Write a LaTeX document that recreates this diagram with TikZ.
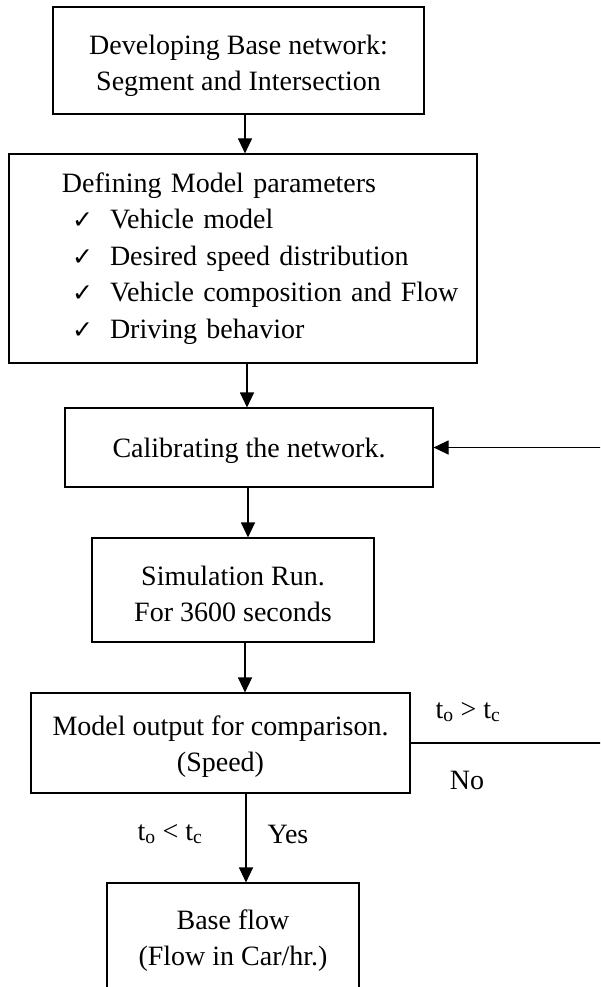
\documentclass[tikz,border=0pt]{standalone}
\usepackage{fontspec}
\setmainfont{Liberation Serif}
\newfontfamily\symfont{DejaVu Sans}
\usetikzlibrary{arrows.meta}
\newcommand\mytopstrut{\rule{0pt}{27pt}}
\newcommand\mychk{\makebox[38pt][l]{\symfont\fontsize{25}{25}\selectfont ✓}}
\begin{document}
\begin{tikzpicture}[x=1pt,y=-1pt,
  box/.style={draw, line width=1.1pt, inner sep=0pt, align=center,
    font=\fontsize{28}{36}\selectfont},
  arr/.style={line width=1.1pt, -{Triangle[length=15pt,width=14pt]}},
  lbl/.style={inner sep=0pt, font=\fontsize{28}{36}\selectfont}]
\useasboundingbox (0,0) rectangle (600,987);
\clip (0,0) rectangle (600,987);
\node[box, minimum width=371pt, minimum height=107pt] (b1) at (238.5,60.5)
  {\rule{0pt}{31pt}Developing Base network:\\Segment and Intersection};
\node[box, minimum width=468pt, minimum height=209pt, text width=468pt, align=left,
  font=\fontsize{28}{36.5}\selectfont] (b2) at (243,258.5)
  {\hspace*{53pt}Defining Model parameters\\
   \hspace*{63pt}\mychk Vehicle model\\
   \hspace*{63pt}\mychk Desired speed distribution\\
   \hspace*{63pt}\mychk Vehicle composition and Flow\\
   \hspace*{63pt}\mychk Driving behavior};
\node[box, minimum width=368pt, minimum height=79pt] (b3) at (249,447.5)
  {\mytopstrut Calibrating the network.};
\node[box, minimum width=282pt, minimum height=104pt] (b4) at (233,590)
  {\mytopstrut Simulation Run.\\For 3600 seconds};
\node[box, minimum width=379pt, minimum height=100pt] (b5) at (220.5,743)
  {\mytopstrut Model output for comparison.\\(Speed)};
\node[box, minimum width=252pt, minimum height=107pt] (b6) at (233,936.5)
  {\mytopstrut Base flow\\(Flow in Car/hr.)};
\coordinate (x1) at (245,0);
\coordinate (x2) at (247,0);
\coordinate (x3) at (248,0);
\coordinate (x4) at (245,0);
\coordinate (x5) at (246,0);
\coordinate (fb) at (606,0);
\draw[arr] (b1.south -| x1) -- (b2.north -| x1);
\draw[arr] (b2.south -| x2) -- (b3.north -| x2);
\draw[arr] (b3.south -| x3) -- (b4.north -| x3);
\draw[arr] (b4.south -| x4) -- (b5.north -| x4);
\draw[arr] (b5.south -| x5) -- (b6.north -| x5);
\draw[arr] (b5.east) -- (b5.east -| fb) -- (b3.east -| fb) -- (b3.east);
\node[lbl] (l1) at (468,712) {t\textsubscript{o} > t\textsubscript{c}};
\node[lbl] (l2) at (467,780) {No};
\node[lbl] (l3) at (170,834) {t\textsubscript{o} < t\textsubscript{c}};
\node[lbl] (l4) at (288,834) {Yes};
\end{tikzpicture}
\end{document}
